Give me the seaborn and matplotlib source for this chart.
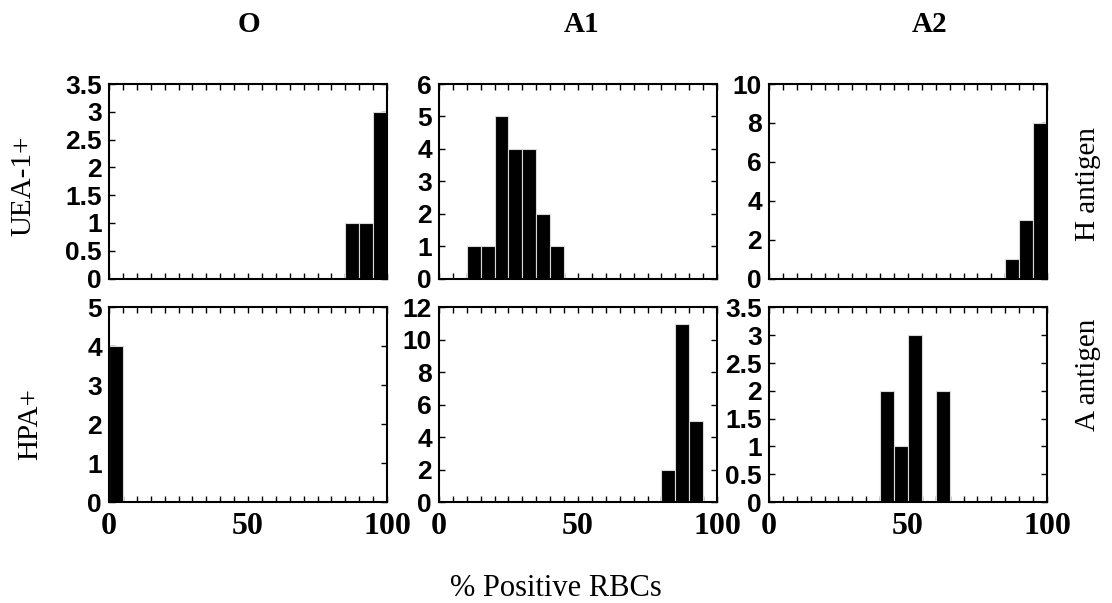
import numpy as np
import pandas as pd
import matplotlib
matplotlib.use("Agg")
import matplotlib.pyplot as plt
import seaborn as sns

# ---- data (bin left edges in % positive RBCs, counts per 5% bin) ----
bin_edges = list(range(0, 105, 5))
columns = ["O", "A1", "A2"]
rows = ["UEA-1+", "HPA+"]
right_labels = ["H antigen", "A antigen"]

uea_O_bins = [85, 90, 95]
uea_O_counts = [1, 1, 3]
uea_A1_bins = [10, 15, 20, 25, 30, 35, 40]
uea_A1_counts = [1, 1, 5, 4, 4, 2, 1]
uea_A2_bins = [85, 90, 95]
uea_A2_counts = [1, 3, 8]
hpa_O_bins = [0]
hpa_O_counts = [4]
hpa_A1_bins = [80, 85, 90]
hpa_A1_counts = [2, 11, 5]
hpa_A2_bins = [40, 45, 50, 60]
hpa_A2_counts = [2, 1, 3, 2]

ylims = [[3.5, 6, 10], [5, 12, 3.5]]
ysteps = [[0.5, 1, 2], [1, 2, 0.5]]
xtick_labels = ["0", "50", "100"]

panels = [
    [(uea_O_bins, uea_O_counts), (uea_A1_bins, uea_A1_counts), (uea_A2_bins, uea_A2_counts)],
    [(hpa_O_bins, hpa_O_counts), (hpa_A1_bins, hpa_A1_counts), (hpa_A2_bins, hpa_A2_counts)],
]

sns.set_theme(style="ticks")
plt.rcParams["font.family"] = ["Liberation Serif", "DejaVu Serif"]
plt.rcParams["text.color"] = "black"
plt.rcParams["xtick.color"] = "black"
plt.rcParams["ytick.color"] = "black"
plt.rcParams["xtick.labelcolor"] = "black"
plt.rcParams["ytick.labelcolor"] = "black"
plt.rcParams["axes.labelcolor"] = "black"

W, H = 1112, 603
fig, axes = plt.subplots(2, 3, figsize=(W / 100, H / 100), dpi=100)
fig.subplots_adjust(left=109 / W, right=1047 / W, top=1 - 84 / H, bottom=1 - 502 / H,
                    wspace=0.187, hspace=0.149)

for r in range(2):
    for c in range(3):
        ax = axes[r][c]
        b, n = panels[r][c]
        df = pd.DataFrame({"pct": [v + 2.5 for v in b], "count": n})
        sns.histplot(data=df, x="pct", weights="count", bins=bin_edges, ax=ax,
                     color="black", alpha=1, edgecolor="#d8d8d8", linewidth=0.8)
        ax.set_xlim(0, 100)
        ax.set_ylim(0, ylims[r][c])
        yt = np.arange(0, ylims[r][c] + 1e-9, ysteps[r][c])
        ax.set_yticks(yt)
        ax.set_yticklabels(["%g" % v for v in yt], fontfamily="Liberation Sans",
                           fontweight="bold", fontsize=19, color="black")
        xt = np.arange(0, 101, 5)
        ax.set_xticks(xt)
        if r == 1:
            labs = [("%d" % v if v in (0, 50, 100) else "") for v in xt]
        else:
            labs = ["" for v in xt]
        ax.set_xticklabels(labs, fontfamily="Liberation Serif", fontweight="bold",
                           fontsize=23, color="black")
        ax.tick_params(axis="both", direction="in", length=4, width=1, color="black",
                       top=True, right=True, left=True, bottom=True)
        ax.tick_params(axis="x", pad=7)
        ax.tick_params(axis="y", pad=5)
        ax.set_xlabel("")
        ax.set_ylabel("")
        for s in ax.spines.values():
            s.set_visible(True)
            s.set_color("black")
            s.set_linewidth(1.5)

# column titles
for x, t in zip([249, 582, 930], columns):
    fig.text(x / W, 1 - 25 / H, t, ha="center", va="center", fontsize=21,
             fontweight="bold", color="black")

# row labels (left)
fig.text(23 / W, 1 - 186 / H, rows[0], rotation=90, ha="center", va="center", fontsize=21)
fig.text(30 / W, 1 - 424 / H, rows[1], rotation=90, ha="center", va="center", fontsize=21)

# right labels
fig.text(1088 / W, 1 - 184 / H, right_labels[0], rotation=90, ha="center", va="center", fontsize=21)
fig.text(1088 / W, 1 - 375 / H, right_labels[1], rotation=90, ha="center", va="center", fontsize=21)

# x label
fig.text(556 / W, 1 - 588 / H, "% Positive RBCs", ha="center", va="center", fontsize=22)

fig.savefig("out.png", dpi=100)
